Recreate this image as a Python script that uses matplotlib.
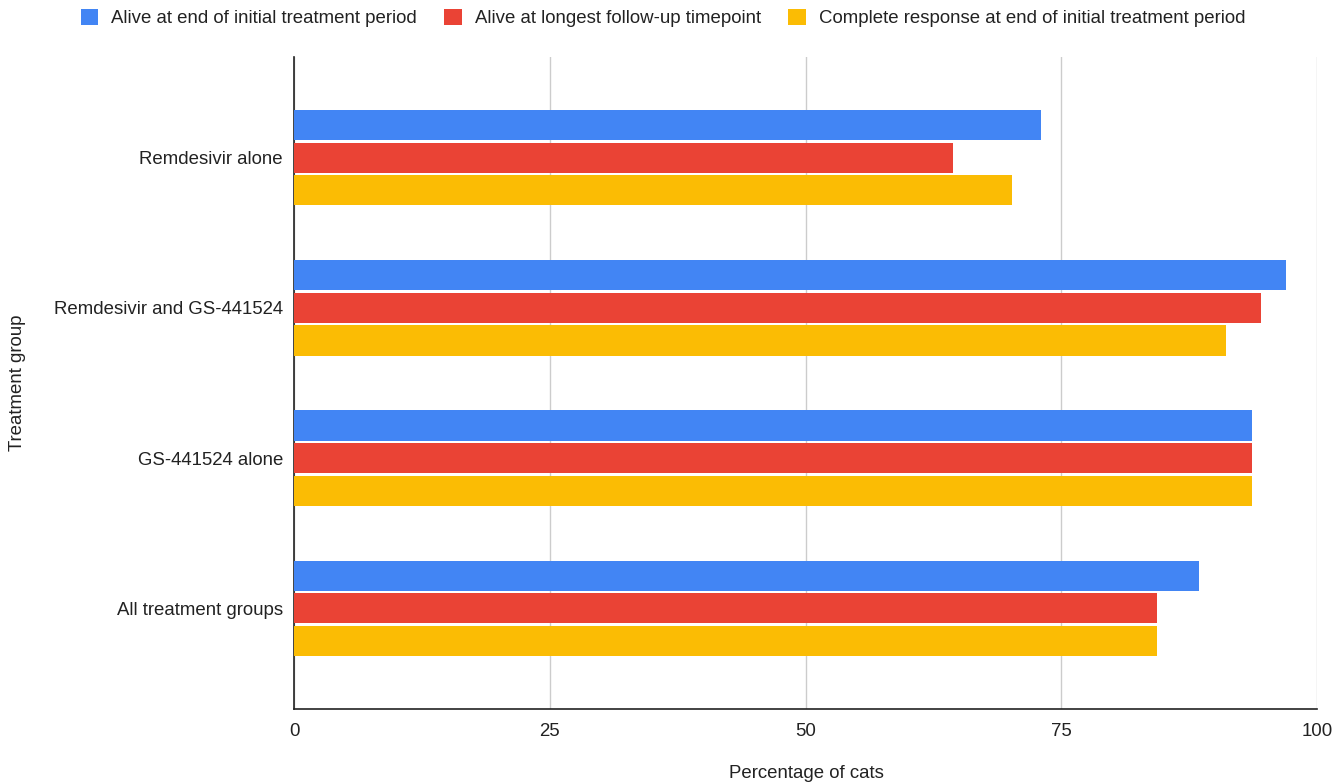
import matplotlib
matplotlib.use("Agg")
import matplotlib.pyplot as plt
import numpy as np

plt.rcParams['font.family'] = ['Liberation Sans', 'DejaVu Sans']

groups = ['Remdesivir alone', 'Remdesivir and GS-441524', 'GS-441524 alone', 'All treatment groups']
alive_end = [73.0, 97.0, 93.6, 88.5]
alive_followup = [64.4, 94.5, 93.6, 84.4]
complete_resp = [70.2, 91.1, 93.6, 84.4]

series_names = ['Alive at end of initial treatment period',
                'Alive at longest follow-up timepoint',
                'Complete response at end of initial treatment period']
colors = ['#4285F4', '#EA4335', '#FBBC04']

fs = 13.4

fig = plt.figure(figsize=(13.37, 7.83), dpi=100)
ax = fig.add_axes([294 / 1337, 1 - 709 / 783, (1317 - 294) / 1337, (709 - 57) / 783])

y = np.arange(len(groups))
h = 0.2
step = 0.217
for i, (vals, name, c) in enumerate(zip([alive_end, alive_followup, complete_resp], series_names, colors)):
    ax.barh(y + (i - 1) * step, vals, height=h, color=c, label=name, zorder=3)

ax.set_xlim(0, 100)
ax.set_ylim(3.67, -0.67)
ax.set_xticks([0, 25, 50, 75, 100])
ax.set_yticks(y)
ax.set_yticklabels(groups)
ax.tick_params(axis='both', length=0, labelsize=fs, colors='#222222')
ax.tick_params(axis='x', pad=10)
ax.tick_params(axis='y', pad=8)
ax.grid(axis='x', color='#cccccc', linewidth=1, zorder=0)
for s in ['top', 'right']:
    ax.spines[s].set_visible(False)
for s in ['left', 'bottom']:
    ax.spines[s].set_color('#222222')
    ax.spines[s].set_linewidth(1.2)

fig.text(806 / 1337, 1 - 773 / 783, 'Percentage of cats', ha='center', va='center', fontsize=fs, color='#222222')
fig.text(18 / 1337, 1 - 383 / 783, 'Treatment group', ha='center', va='center', rotation=90, fontsize=fs, color='#222222')

ax.legend(loc='center', bbox_to_anchor=(663 / 1337, 1 - 18 / 783), bbox_transform=fig.transFigure,
          ncol=3, frameon=False, fontsize=fs, handlelength=0.95, handleheight=0.95,
          columnspacing=1.45, handletextpad=0.7, labelcolor='#222222')

fig.savefig('out.png', dpi=100)
